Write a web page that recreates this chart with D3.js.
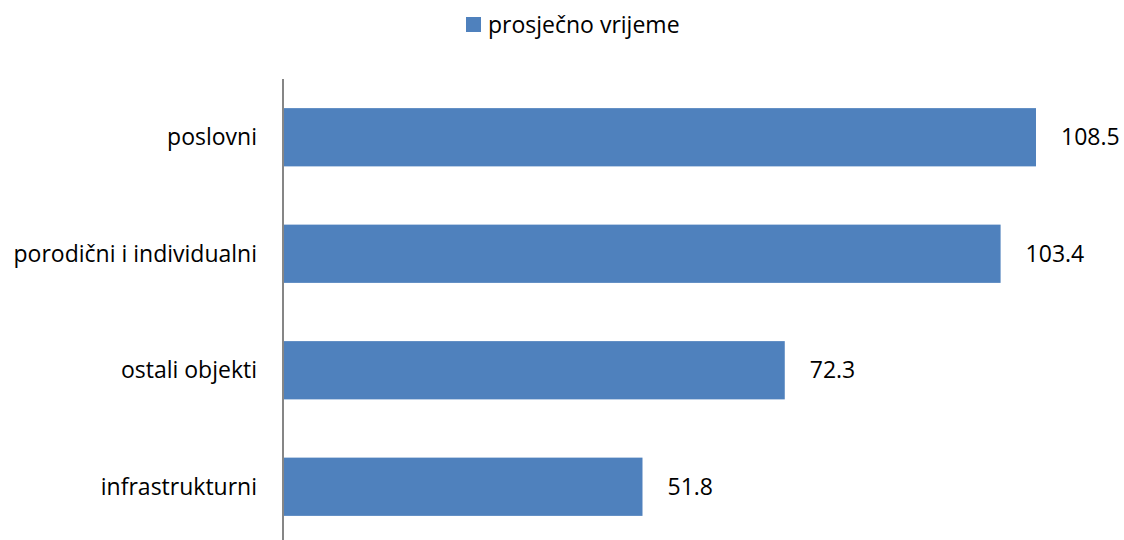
<!DOCTYPE html>
<html><head><meta charset="utf-8">
<script src="https://cdn.jsdelivr.net/npm/d3@7"></script>
<style>body{margin:0;background:#fff}svg{display:block}text{font-family:"Open Sans",Lato,sans-serif;fill:#000}</style>
</head><body>
<svg id="c" width="1124" height="540"></svg>
<script>
(function(){
const categories = ["poslovni","porodični i individualni","ostali objekti","infrastrukturni"];
const values = [108.5,103.4,72.3,51.8];
const seriesName = "prosječno vrijeme";
const valueLabels = ["108.5","103.4","72.3","51.8"];

const svg = d3.select("#c");
const mLeft = 283, mTop = 79, mBottom = 545;
const fs = 23;
const x = d3.scaleLinear().domain([0,120]).range([mLeft, mLeft + 120*6.94]);
const y = d3.scaleBand().domain(categories).range([mTop, mBottom]).paddingInner(0.5).paddingOuter(0.25);

svg.selectAll("rect.bar").data(values).join("rect")
  .attr("class","bar")
  .attr("x", x(0))
  .attr("y", (d,i)=>y(categories[i]))
  .attr("width", d=>x(d)-x(0))
  .attr("height", y.bandwidth())
  .attr("fill","#4F81BD");

svg.append("line").attr("x1",mLeft).attr("x2",mLeft).attr("y1",mTop).attr("y2",mBottom)
  .attr("stroke","#868686").attr("stroke-width",2);

svg.selectAll("text.cat").data(categories).join("text")
  .attr("class","cat")
  .attr("x", mLeft-26)
  .attr("y", d=>y(d)+y.bandwidth()/2)
  .attr("dy","0.35em")
  .attr("text-anchor","end")
  .attr("font-size",fs)
  .text(d=>d);

svg.selectAll("text.val").data(values).join("text")
  .attr("class","val")
  .attr("x", d=>x(d)+25)
  .attr("y", (d,i)=>y(categories[i])+y.bandwidth()/2)
  .attr("dy","0.35em")
  .attr("font-size",fs)
  .text((d,i)=>valueLabels[i]);

const lg = svg.append("g");
lg.append("rect").attr("x",466).attr("y",17).attr("width",15).attr("height",15).attr("fill","#4F81BD");
lg.append("text").attr("x",488).attr("y",25).attr("dy","0.35em").attr("font-size",fs).text(seriesName);
})();
</script>
</body></html>
